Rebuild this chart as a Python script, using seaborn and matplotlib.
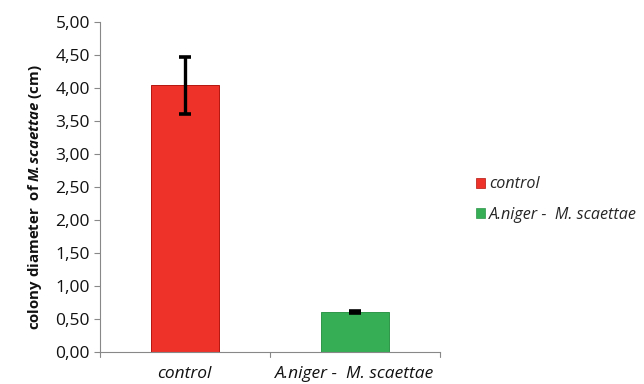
import matplotlib
matplotlib.use("Agg")
import matplotlib.pyplot as plt
import seaborn as sns
import pandas as pd
from matplotlib.ticker import FuncFormatter, MultipleLocator
from matplotlib.patches import Patch

categories = ["control", "A.niger -  M. scaettae"]
values = [4.04, 0.61]
errors = [0.43, 0.02]
colors = ["#EE3129", "#35AE55"]

sns.set_theme(style="white")
plt.rcParams['font.family'] = ['Open Sans', 'DejaVu Sans']
plt.rcParams['mathtext.fontset'] = 'custom'
plt.rcParams['mathtext.it'] = 'Open Sans:italic:bold'
plt.rcParams['mathtext.rm'] = 'Open Sans:bold'

df = pd.DataFrame({"cat": categories, "val": values})
edges = [sns.set_hls_values(c, l=0.38) for c in colors]

fig = plt.figure(figsize=(6.44, 3.84), dpi=100)
ax = fig.add_axes([0.155, 0.083, 0.528, 0.86])
sns.barplot(data=df, x="cat", y="val", hue="cat", palette=colors, width=0.4,
            ax=ax, legend=False, saturation=1, linewidth=0.7)
for p, e in zip(ax.patches, edges):
    p.set_edgecolor(e)
ax.errorbar(range(len(categories)), values, yerr=errors, fmt="none",
            ecolor="black", elinewidth=2.4, capsize=4, capthick=2.6)

ax.set_xlim(-0.5, 1.5)
ax.set_ylim(0, 5)
ax.yaxis.set_major_locator(MultipleLocator(0.5))
ax.yaxis.set_major_formatter(FuncFormatter(lambda v, p: f"{v:.2f}".replace(".", ",")))
ax.set_xlabel("")
ax.set_ylabel(r"colony diameter  of $\mathit{M}\!\mathit{.scaettae}$ (cm)", fontsize=10.8,
              fontweight="bold", color="#111111", labelpad=6)
ax.yaxis.set_label_coords(-0.165, 0.47)
ax.set_xticks([0, 1])
ax.set_xticklabels(categories, fontstyle="italic", fontsize=12.5, color="#111111")
ax.tick_params(axis="y", labelsize=12.5, colors="#111111", length=4, width=0.8,
               left=True, color="#888888", pad=3)
ax.tick_params(axis="x", length=0, pad=10)
for x in [-0.5, 0.5, 1.5]:
    ax.plot([x, x], [0, -0.07], color="#888888", lw=0.8, clip_on=False)

for s in ["top", "right"]:
    ax.spines[s].set_visible(False)
for s in ["left", "bottom"]:
    ax.spines[s].set_color("#888888")
    ax.spines[s].set_linewidth(0.8)

handles = [Patch(facecolor=c, edgecolor=e, linewidth=0.5) for c, e in zip(colors, edges)]
fig.legend(handles, categories, loc="center left", bbox_to_anchor=(0.716, 0.48),
           frameon=False, prop={"style": "italic", "size": 11.6},
           handlelength=0.6, handleheight=0.6, handletextpad=0.25, labelspacing=0.9)

fig.savefig("out.png", dpi=100)
